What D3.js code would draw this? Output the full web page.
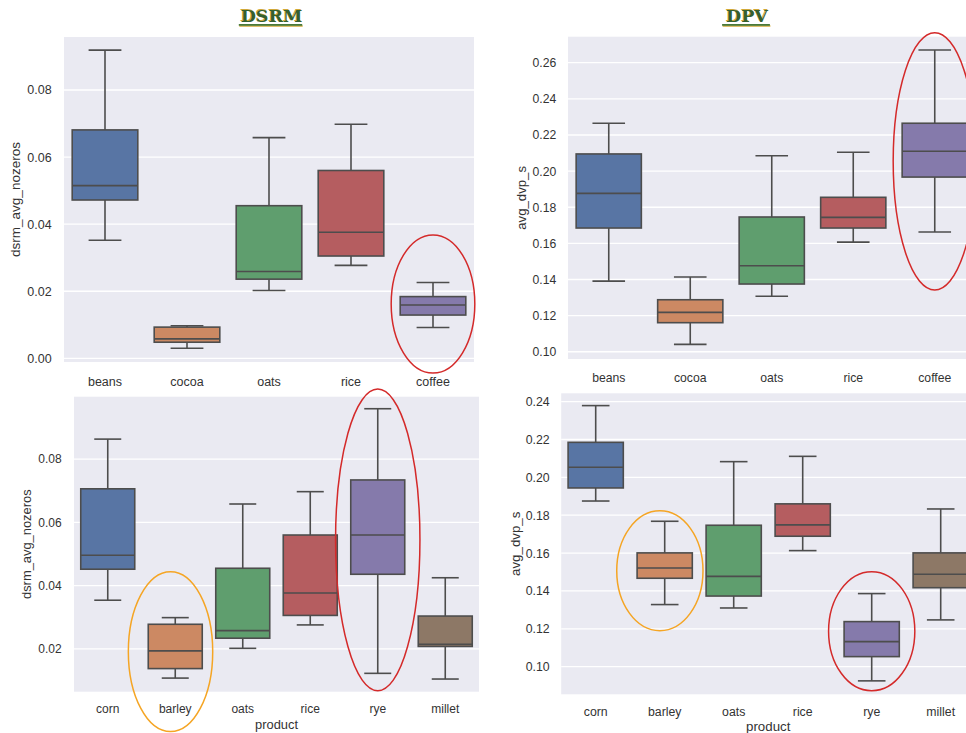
<!DOCTYPE html>
<html>
<head>
<meta charset="utf-8">
<script src="https://cdn.jsdelivr.net/npm/d3@7"></script>
<style>
  body { margin: 0; background: #ffffff; }
  svg { display: block; }
  text { font-family: "Liberation Sans", Arial, sans-serif; }
</style>
</head>
<body>
<svg id="chart" width="966" height="733"></svg>
<script>
// ---- data: five-number summaries [lower whisker, Q1, median, Q3, upper whisker] ----
const dsrmTopProducts = ["beans", "cocoa", "oats", "rice", "coffee"];
const dsrmTopStats = [
  [0.0352, 0.0472, 0.0515, 0.0681, 0.0919],
  [0.0030, 0.0048, 0.0058, 0.0093, 0.0097],
  [0.0202, 0.0236, 0.0259, 0.0455, 0.0658],
  [0.0277, 0.0305, 0.0376, 0.0560, 0.0698],
  [0.0092, 0.0129, 0.0159, 0.0184, 0.0226]
];
const dsrmTopTicks = [0.00, 0.02, 0.04, 0.06, 0.08];

const dpvTopProducts = ["beans", "cocoa", "oats", "rice", "coffee"];
const dpvTopStats = [
  [0.1391, 0.1685, 0.1877, 0.2095, 0.2265],
  [0.1041, 0.1161, 0.1218, 0.1288, 0.1414],
  [0.1307, 0.1375, 0.1476, 0.1746, 0.2085],
  [0.1607, 0.1685, 0.1744, 0.1855, 0.2104],
  [0.1663, 0.1967, 0.2110, 0.2265, 0.2670]
];
const dpvTopTicks = [0.10, 0.12, 0.14, 0.16, 0.18, 0.20, 0.22, 0.24, 0.26];

const dsrmBottomProducts = ["corn", "barley", "oats", "rice", "rye", "millet"];
const dsrmBottomStats = [
  [0.0354, 0.0452, 0.0496, 0.0706, 0.0863],
  [0.0108, 0.0138, 0.0194, 0.0278, 0.0299],
  [0.0202, 0.0234, 0.0258, 0.0455, 0.0658],
  [0.0276, 0.0306, 0.0377, 0.0560, 0.0697],
  [0.0123, 0.0436, 0.0560, 0.0734, 0.0959],
  [0.0105, 0.0208, 0.0215, 0.0304, 0.0425]
];
const dsrmBottomTicks = [0.02, 0.04, 0.06, 0.08];

const dpvBottomProducts = ["corn", "barley", "oats", "rice", "rye", "millet"];
const dpvBottomStats = [
  [0.1875, 0.1944, 0.2053, 0.2185, 0.2379],
  [0.1328, 0.1467, 0.1521, 0.1601, 0.1768],
  [0.1310, 0.1373, 0.1477, 0.1747, 0.2083],
  [0.1613, 0.1689, 0.1749, 0.1860, 0.2111],
  [0.0925, 0.1053, 0.1132, 0.1238, 0.1386],
  [0.1247, 0.1417, 0.1488, 0.1601, 0.1833]
];
const dpvBottomTicks = [0.10, 0.12, 0.14, 0.16, 0.18, 0.20, 0.22, 0.24];

const boxColors = ["#5875a4", "#cc8963", "#5f9e6e", "#b55d60", "#857aab", "#8d7866"];

// highlighted groups: [panel index, product, low value, high value]
const highlightPanels  = [0, 1, 2, 2, 3, 3];
const highlightProduct = ["coffee", "coffee", "barley", "rye", "barley", "rye"];
const highlightRange   = [[-0.0044, 0.0368], [0.1342, 0.2766], [-0.0061, 0.0444],
                          [0.0068, 0.1021], [0.1190, 0.1823], [0.0873, 0.1502]];
const highlightColor   = ["#d42a2a", "#d42a2a", "#f5a524", "#d42a2a", "#f5a524", "#d42a2a"];

// ---- panel layout ----
const panels = [
  { products: dsrmTopProducts, stats: dsrmTopStats, ticks: dsrmTopTicks, ylabel: "dsrm_avg_nozeros",
    x0: 64, x1: 474, y0: 37, y1: 362, domain: [-0.0011, 0.0958],
    tickFs: 12.5, labFs: 13.5, tickGap: 12.3, ylabX: 15, xlabDy: 24, xlabel: null },
  { products: dpvTopProducts, stats: dpvTopStats, ticks: dpvTopTicks, ylabel: "avg_dvp_s",
    x0: 568, x1: 975.5, y0: 36.7, y1: 359, domain: [0.0960, 0.2744],
    tickFs: 12.2, labFs: 13.2, tickGap: 11.7, ylabX: 521, xlabDy: 23, xlabel: null },
  { products: dsrmBottomProducts, stats: dsrmBottomStats, ticks: dsrmBottomTicks, ylabel: "dsrm_avg_nozeros",
    x0: 74, x1: 479, y0: 396.7, y1: 691.7, domain: [0.0065, 0.0997],
    tickFs: 12.0, labFs: 12.9, tickGap: 12.3, ylabX: 26.7, xlabDy: 21.5, xlabel: "product", xlabY: 728.5 },
  { products: dpvBottomProducts, stats: dpvBottomStats, ticks: dpvBottomTicks, ylabel: "avg_dvp_s",
    x0: 561.2, x1: 975.2, y0: 393.3, y1: 694.3, domain: [0.0854, 0.2444],
    tickFs: 12.3, labFs: 13.3, tickGap: 11.5, ylabX: 515, xlabDy: 21.7, xlabel: "product", xlabY: 731 }
];

const svg = d3.select("#chart");
const lineColor = "#4d4d4d";
const textColor = "#333333";

panels.forEach(p => {
  p.x = d3.scaleBand().domain(p.products).range([p.x0, p.x1]).paddingInner(0).paddingOuter(0);
  p.y = d3.scaleLinear().domain(p.domain).range([p.y1, p.y0]);
  const g = svg.append("g");

  // axes background
  g.append("rect")
    .attr("x", p.x0).attr("y", p.y0)
    .attr("width", p.x1 - p.x0).attr("height", p.y1 - p.y0)
    .attr("fill", "#eaeaf2");

  // horizontal grid
  g.selectAll(".grid").data(p.ticks).join("line")
    .attr("x1", p.x0).attr("x2", p.x1)
    .attr("y1", d => p.y(d)).attr("y2", d => p.y(d))
    .attr("stroke", "#ffffff").attr("stroke-width", 1.3);

  // y axis tick labels
  const yAxis = d3.axisLeft(p.y).tickValues(p.ticks).tickFormat(d3.format(".2f")).tickSize(0).tickPadding(p.tickGap);
  const ya = g.append("g").attr("transform", `translate(${p.x0},0)`).call(yAxis);
  ya.select(".domain").remove();
  ya.selectAll("text").attr("fill", textColor).style("font-size", p.tickFs + "px")
    .style("font-family", "'Liberation Sans', Arial, sans-serif");

  // x axis tick labels
  const xAxis = d3.axisBottom(p.x).tickSize(0).tickPadding(0);
  const xa = g.append("g").attr("transform", `translate(0,${p.y1})`).call(xAxis);
  xa.select(".domain").remove();
  xa.selectAll("text").attr("fill", textColor).attr("y", p.xlabDy).attr("dy", 0)
    .style("font-size", p.tickFs + "px")
    .style("font-family", "'Liberation Sans', Arial, sans-serif");

  // axis titles
  g.append("text")
    .attr("transform", `translate(${p.ylabX},${(p.y0 + p.y1) / 2}) rotate(-90)`)
    .attr("text-anchor", "middle").attr("dy", "0.35em")
    .attr("fill", textColor).style("font-size", p.labFs + "px")
    .text(p.ylabel);
  if (p.xlabel) {
    g.append("text")
      .attr("x", (p.x0 + p.x1) / 2)
      .attr("y", p.xlabY)
      .attr("text-anchor", "middle")
      .attr("fill", textColor).style("font-size", p.labFs + "px")
      .text(p.xlabel);
  }

  // boxes
  const bw = p.x.bandwidth() * 0.8;
  const box = g.selectAll(".box").data(p.stats).join("g")
    .attr("transform", (d, i) => `translate(${p.x(p.products[i]) + p.x.bandwidth() / 2},0)`);

  box.append("line") // lower whisker
    .attr("x1", 0).attr("x2", 0)
    .attr("y1", d => p.y(d[0])).attr("y2", d => p.y(d[1]))
    .attr("stroke", lineColor).attr("stroke-width", 1.6);
  box.append("line") // upper whisker
    .attr("x1", 0).attr("x2", 0)
    .attr("y1", d => p.y(d[3])).attr("y2", d => p.y(d[4]))
    .attr("stroke", lineColor).attr("stroke-width", 1.6);
  [0, 4].forEach(k => {
    box.append("line")
      .attr("x1", -bw / 4).attr("x2", bw / 4)
      .attr("y1", d => p.y(d[k])).attr("y2", d => p.y(d[k]))
      .attr("stroke", lineColor).attr("stroke-width", 1.6);
  });
  box.append("rect")
    .attr("x", -bw / 2).attr("width", bw)
    .attr("y", d => p.y(d[3])).attr("height", d => p.y(d[1]) - p.y(d[3]))
    .attr("fill", (d, i) => boxColors[i])
    .attr("stroke", lineColor).attr("stroke-width", 1.6);
  box.append("line") // median
    .attr("x1", -bw / 2).attr("x2", bw / 2)
    .attr("y1", d => p.y(d[2])).attr("y2", d => p.y(d[2]))
    .attr("stroke", lineColor).attr("stroke-width", 1.6);
});

// panel headings
function heading(label, cx) {
  const h = svg.append("g");
  const w = label.length * 15.6 + 1;
  h.append("rect").attr("x", cx - w / 2 - 0.5).attr("y", 25.2).attr("width", w).attr("height", 1.6).attr("fill", "#d8b24a");
  h.append("rect").attr("x", cx - w / 2 - 1).attr("y", 24).attr("width", w).attr("height", 1.8).attr("fill", "#4a7a3a");
  h.append("text").attr("x", cx - 0.8).attr("y", 22 - 0.6).attr("text-anchor", "middle")
    .style("font-family", "'DejaVu Serif', serif").style("font-weight", "bold").style("font-size", "17.5px")
    .attr("fill", "#d1a93a").text(label);
  h.append("text").attr("x", cx).attr("y", 22).attr("text-anchor", "middle")
    .style("font-family", "'DejaVu Serif', serif").style("font-weight", "bold").style("font-size", "17.5px")
    .attr("fill", "#35602f").text(label);
}
heading("DSRM", 271.5);
heading("DPV", 747);

// highlight ellipses around selected groups
const hl = svg.append("g");
highlightPanels.forEach((pi, i) => {
  const p = panels[pi];
  const cx = p.x(highlightProduct[i]) + p.x.bandwidth() / 2;
  const yA = p.y(highlightRange[i][0]), yB = p.y(highlightRange[i][1]);
  const rx = pi === 0 || pi === 1 ? p.x.bandwidth() * 0.51 : p.x.bandwidth() * 0.625;
  const shift = highlightProduct[i] === "barley" ? -p.x.bandwidth() * 0.07 : 0;
  hl.append("ellipse")
    .attr("cx", cx + shift).attr("cy", (yA + yB) / 2)
    .attr("rx", rx).attr("ry", Math.abs(yA - yB) / 2)
    .attr("fill", "none").attr("stroke", highlightColor[i]).attr("stroke-width", 1.5);
});
</script>
</body>
</html>
